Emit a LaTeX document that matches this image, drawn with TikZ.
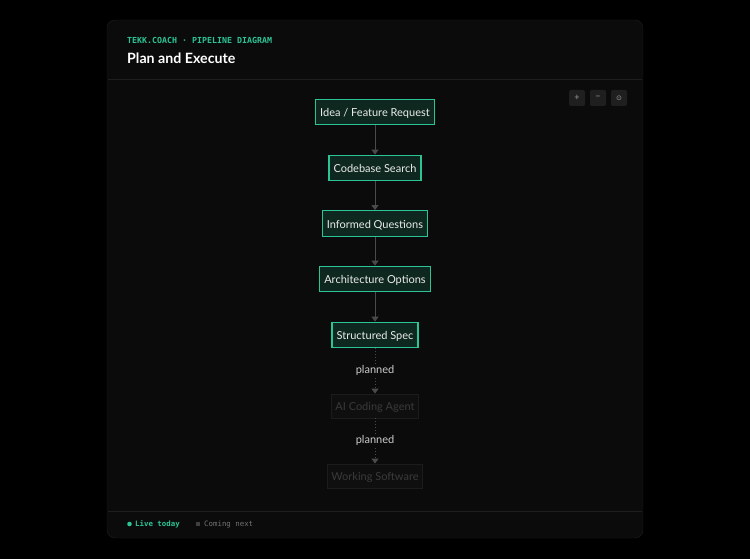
\documentclass[tikz,border=0pt]{standalone}
\usepackage{fontspec}
\setmainfont{Lato}
\setmonofont{DejaVu Sans Mono}
\usepackage{tikz}
\usetikzlibrary{ arrows.meta, % For the little triangle heads
                 positioning, % For easy node-relative placements
               }

\definecolor{pagebg}{HTML}{000000}
\definecolor{cardbg}{HTML}{0B0B0B}
\definecolor{cardline}{HTML}{1E1E1E}
\definecolor{mint}{HTML}{2CC495}
\definecolor{mintfill}{HTML}{0E2820}
\definecolor{wire}{HTML}{4A4A4A}
\definecolor{ghostfill}{HTML}{0F0F0F}
\definecolor{ghostline}{HTML}{1C1C1C}
\definecolor{ghosttext}{HTML}{3A3A3A}

\begin{document}
\begin{tikzpicture}[x=1pt, y=-1pt,
    live/.style={draw=mint, fill=mintfill, line width=1.3pt, text=white!92!black,
                 font=\fontsize{11}{13}\selectfont, inner xsep=4.5pt, minimum height=25.5pt,
                 text height=9.5pt, text depth=0pt},
    ghost/.style={draw=ghostline, fill=ghostfill, line width=0.8pt, text=ghosttext,
                  font=\fontsize{11}{13}\selectfont, inner xsep=4pt, minimum height=24pt,
                  text height=9.5pt, text depth=0pt},
    wired/.style={draw=wire, line width=1pt, -{Triangle[width=7pt,length=5pt]}},
    planwire/.style={wired, dotted},
    tag/.style={fill=cardbg, text=white!80!black, font=\fontsize{11}{13}\selectfont, inner sep=1pt},
    knob/.style={fill=white!12!black, rounded corners=2pt, minimum size=16pt, inner sep=0pt,
                 text=white!62!black, font=\fontsize{9}{10}\selectfont},
  ]
  % page and card
  \fill[pagebg] (0,0) rectangle (750,559);
  \useasboundingbox (0,0) rectangle (750,559);
  \draw[cardline, fill=cardbg, rounded corners=8pt] (107,20) rectangle (643,538);
  \draw[cardline] (108,79) -- (642,79);
  \draw[cardline] (108,511) -- (642,511);

  % header
  \node[anchor=west, text=mint, font=\ttfamily\bfseries\fontsize{8.3}{10}\selectfont, inner sep=0pt]
    (kicker) at (127,40) {TEKK.COACH · PIPELINE DIAGRAM};
  \node[anchor=west, text=white, font=\bfseries\fontsize{14.2}{17}\selectfont, inner sep=0pt]
    (title) at (127,58) {Plan and Execute};

  % zoom buttons
  \node[knob] (zoomin) at (577,98) {+};
  \node[knob] (zoomout) at (598,98) {−};
  \node[knob] (zoomfit) at (619,98) {\fontspec{DejaVu Sans}\fontsize{7}{8}\selectfont⊙};

  % the pipeline
  \node[live] (idea) at (375,112) {Idea / Feature Request};
  \node[live] (search) at (375,168) {Codebase Search};
  \node[live] (questions) at (375,223.5) {Informed Questions};
  \node[live] (options) at (375,279) {Architecture Options};
  \node[live] (spec) at (375,335) {Structured Spec};
  \node[ghost] (agent) at (375,406) {AI Coding Agent};
  \node[ghost] (software) at (375,476) {Working Software};

  \draw[wired] (idea) -- (search);
  \draw[wired] (search) -- (questions);
  \draw[wired] (questions) -- (options);
  \draw[wired] (options) -- (spec);
  \draw[planwire] (spec) -- (agent) node[tag, pos=0.48] (plan_one) {planned};
  \draw[planwire] (agent) -- (software) node[tag, pos=0.48] (plan_two) {planned};

  % legend
  \fill[mint] (129.5,524) circle (2.3pt);
  \node[anchor=west, text=mint, font=\ttfamily\bfseries\fontsize{7.4}{9}\selectfont, inner sep=0pt]
    (livetoday) at (135,524.5) {Live today};
  \fill[white!25!black] (196,522) rectangle (200,526);
  \node[anchor=west, text=white!45!black, font=\ttfamily\fontsize{7.4}{9}\selectfont, inner sep=0pt]
    (comingnext) at (204,524.5) {Coming next};
\end{tikzpicture}
\end{document}
